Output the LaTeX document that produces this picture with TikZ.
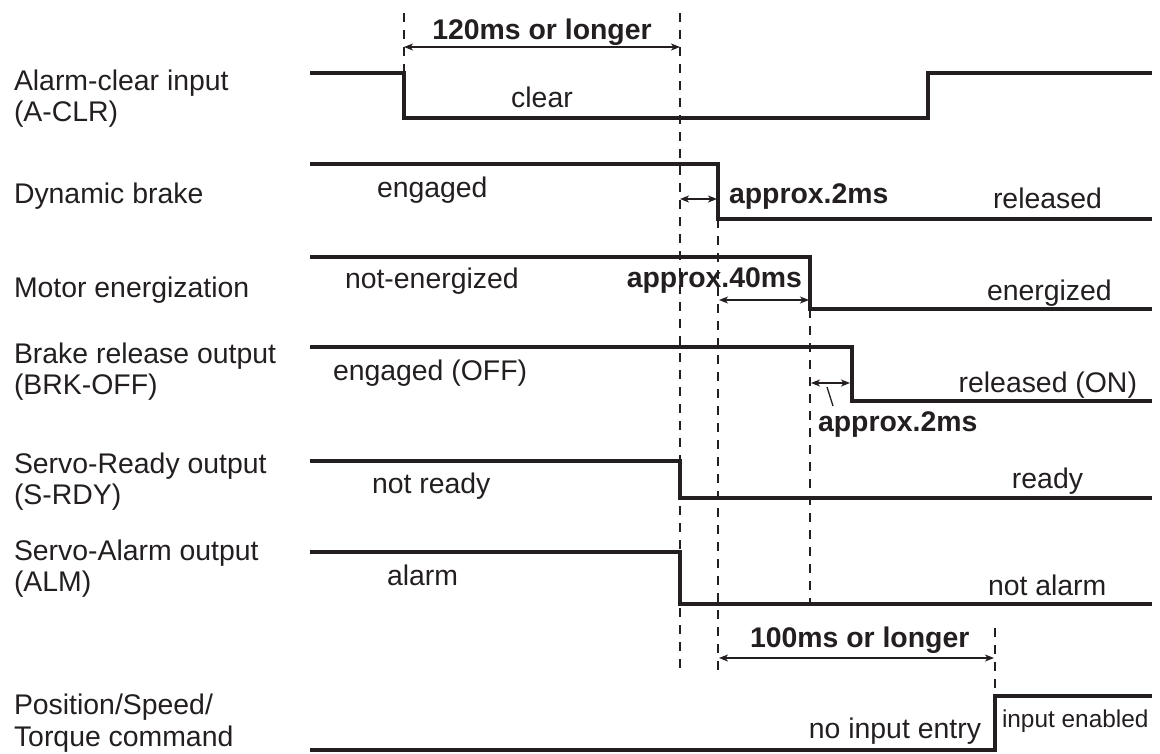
\documentclass[tikz,border=0pt]{standalone}
\usepackage{fontspec}
\setmainfont{Liberation Sans}
\usetikzlibrary{arrows.meta}
\definecolor{ink}{RGB}{35,31,32}
\tikzset{
  lbl/.style={inner sep=0pt, outer sep=0pt, anchor=base west, align=left, text=ink,
              font=\fontsize{28.4}{31.5}\selectfont},
  val/.style={inner sep=0pt, outer sep=0pt, text=ink, font=\fontsize{28.4}{31.5}\selectfont},
  bval/.style={inner sep=0pt, outer sep=0pt, text=ink, font=\fontsize{28.4}{31.5}\selectfont\bfseries},
  sig/.style={draw=ink, line width=3.6pt, line join=miter, line cap=butt},
  vline/.style={draw=ink, line width=1.3pt, dash pattern=on 9pt off 8pt},
  dim/.style={draw=ink, line width=1.3pt, {Stealth[length=9pt,width=7pt,inset=2.5pt]}-{Stealth[length=9pt,width=7pt,inset=2.5pt]}},
  lead/.style={draw=ink, line width=1.3pt}
}
\begin{document}
\begin{tikzpicture}[x=1pt,y=-1pt]
\useasboundingbox (0,0) rectangle (1160,753);

% left labels (anchored at the baseline of their last line)
\node[lbl] (l1) at (14,121.5) {Alarm-clear input\\(A-CLR)};
\node[lbl] (l2) at (14,203) {Dynamic brake};
\node[lbl] (l3) at (14,297) {Motor energization};
\node[lbl] (l4) at (14,394.5) {Brake release output\\(BRK-OFF)};
\node[lbl] (l5) at (14,504.5) {Servo-Ready output\\(S-RDY)};
\node[lbl] (l6) at (14,591.5) {Servo-Alarm output\\(ALM)};
\node[lbl] (l7) at (14,746) {Position/Speed/\\Torque command};

% timing coordinates
\coordinate (t0top) at (404,13);
\coordinate (t0) at (404,73);
\coordinate (t1top) at (680,13);
\coordinate (t1bot) at (680,670);
\coordinate (t2top) at (718,219);
\coordinate (t2bot) at (718,670);
\coordinate (t3top) at (810,309);
\coordinate (t3bot) at (810,604);
\coordinate (t4top) at (995,628);
\coordinate (t4bot) at (995,696);

% dashed guide lines
\draw[vline] (t0top) -- (t0);
\draw[vline] (t1top) -- (t1bot);
\draw[vline] (t2top) -- (t2bot);
\draw[vline] (t3top) -- (t3bot);
\draw[vline] (t4top) -- (t4bot);

% signals
\draw[sig] (310,73) -- (404,73) -- (404,118) -- (928,118) -- (928,73) -- (1152,73);
\draw[sig] (310,164) -- (718,164) -- (718,219) -- (1152,219);
\draw[sig] (310,257) -- (810,257) -- (810,309) -- (1152,309);
\draw[sig] (310,347) -- (852,347) -- (852,401) -- (1152,401);
\draw[sig] (310,461) -- (680,461) -- (680,498) -- (1152,498);
\draw[sig] (310,552) -- (680,552) -- (680,604) -- (1152,604);
\draw[sig] (310,750) -- (995,750) -- (995,696) -- (1152,696);

% dimension arrows
\coordinate (a1l) at (404,47);  \coordinate (a1r) at (680,47);
\coordinate (a2l) at (680,199); \coordinate (a2r) at (717,199);
\coordinate (a3l) at (719,300); \coordinate (a3r) at (809,300);
\coordinate (a4l) at (811,383); \coordinate (a4r) at (850,383);
\coordinate (a5l) at (719,658); \coordinate (a5r) at (994,658);
\draw[dim] (a1l) -- (a1r);
\draw[dim] (a2l) -- (a2r);
\draw[dim] (a3l) -- (a3r);
\draw[dim] (a4l) -- (a4r);
\draw[dim] (a5l) -- (a5r);

% state texts
\node[bval, anchor=base] (d120) at (542,39) {120ms or longer};
\node[val, anchor=base] (clr) at (542,107) {clear};
\node[val, anchor=base west] (eng) at (377,197) {engaged};
\node[bval, anchor=base west] (d2a) at (729,203) {approx.2ms};
\node[val, anchor=base west] (rel) at (993,208) {released};
\node[val, anchor=base west] (nen) at (345,288) {not-energized};
\node[bval, anchor=base east] (d40) at (802,287) {approx.40ms};
\node[val, anchor=base west] (ene) at (987,300) {energized};
\node[val, anchor=base west] (engoff) at (333,380) {engaged (OFF)};
\node[val, anchor=base east] (relon) at (1137,392) {released (ON)};
\node[bval, anchor=base west] (d2b) at (818,431) {approx.2ms};
\node[val, anchor=base west] (nrdy) at (372,493) {not ready};
\node[val, anchor=base east] (rdy) at (1083,488) {ready};
\node[val, anchor=base west] (alm) at (387,585) {alarm};
\node[val, anchor=base west] (nalm) at (988,595) {not alarm};
\node[bval, anchor=base west] (d100) at (750,647) {100ms or longer};
\node[val, anchor=base east] (noin) at (981,738) {no input entry};
\node[val, anchor=base west, font=\fontsize{24.4}{28}\selectfont] (inen) at (1002,727) {input enabled};

% leader for BRK approx.2ms
\coordinate (ldA) at (827,387);
\coordinate (ldB) at (833,406);
\draw[lead] (ldA) -- (ldB);
\end{tikzpicture}
\end{document}
